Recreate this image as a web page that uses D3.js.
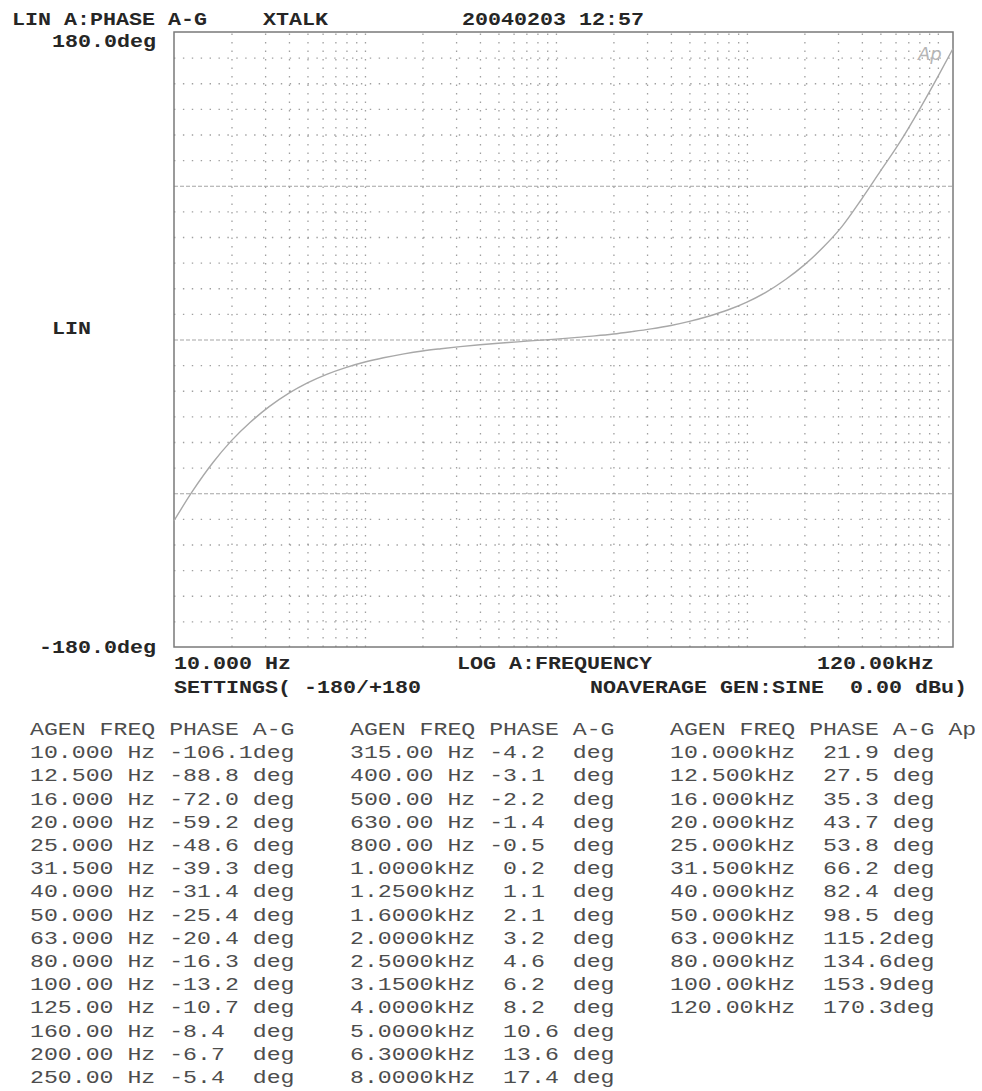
<!DOCTYPE html>
<html>
<head>
<meta charset="utf-8">
<script src="https://cdn.jsdelivr.net/npm/d3@7"></script>
<style>
  body { margin: 0; background: #fff; }
  svg text { white-space: pre; }
</style>
</head>
<body>
<div id="chart"></div>
<script>
// Audio Precision phase plot: A-G phase vs generator frequency

// Measured points (generator frequency in Hz, phase in degrees)
const freqHz = [
  10, 12.5, 16, 20, 25, 31.5, 40, 50, 63, 80, 100, 125, 160, 200, 250,
  315, 400, 500, 630, 800, 1000, 1250, 1600, 2000, 2500, 3150, 4000, 5000, 6300, 8000,
  10000, 12500, 16000, 20000, 25000, 31500, 40000, 50000, 63000, 80000, 100000, 120000
];
const phaseDeg = [
  -106.1, -88.8, -72.0, -59.2, -48.6, -39.3, -31.4, -25.4, -20.4, -16.3, -13.2, -10.7, -8.4, -6.7, -5.4,
  -4.2, -3.1, -2.2, -1.4, -0.5, 0.2, 1.1, 2.1, 3.2, 4.6, 6.2, 8.2, 10.6, 13.6, 17.4,
  21.9, 27.5, 35.3, 43.7, 53.8, 66.2, 82.4, 98.5, 115.2, 134.6, 153.9, 170.3
];

// Axis ends and grid
const freqDomain = [10, 120000];
const phaseDomain = [-180, 180];
const phaseGrid = d3.range(-165, 180, 15);
const phaseMajor = [-90, 0, 90];
const freqGrid = [10, 100, 1000, 10000]
  .flatMap(d => [2, 3, 4, 5, 6, 7, 8, 9, 10].map(m => d * m))
  .filter(f => f < 120000);

// Table layout: rows per column
const tableColumns = [[0, 15], [15, 30], [30, 42]];
const tableHeaders = ['AGEN FREQ PHASE A-G', 'AGEN FREQ PHASE A-G', 'AGEN FREQ PHASE A-G Ap'];

const W = 982, H = 1091;
const plot = { left: 174, right: 953, top: 32, bottom: 647 };

const svg = d3.select('#chart').append('svg')
  .attr('width', W)
  .attr('height', H)
  .attr('xml:space', 'preserve');

svg.append('rect').attr('width', W).attr('height', H).attr('fill', '#fff');

const x = d3.scaleLog().domain(freqDomain).range([plot.left, plot.right]);
const y = d3.scaleLinear().domain(phaseDomain).range([plot.bottom, plot.top]);

const monoFont = "'Liberation Mono', 'Courier New', monospace";
const gridColor = '#8f8f8f';

// Horizontal dotted grid
const yGrid = svg.append('g')
  .attr('transform', `translate(${plot.left},0)`)
  .call(d3.axisLeft(y)
    .tickValues(phaseGrid)
    .tickSize(-(plot.right - plot.left))
    .tickFormat(''));
yGrid.select('.domain').remove();
yGrid.selectAll('.tick line')
  .attr('stroke', gridColor)
  .attr('stroke-width', d => phaseMajor.includes(d) ? 1 : 1.3)
  .attr('stroke-dasharray', d => phaseMajor.includes(d) ? '4,2' : '1.4,7.5')
  .attr('stroke-opacity', d => phaseMajor.includes(d) ? 0.8 : 0.85);

// Vertical dotted grid
const xGrid = svg.append('g')
  .attr('transform', `translate(0,${plot.bottom})`)
  .call(d3.axisBottom(x)
    .tickValues(freqGrid)
    .tickSize(-(plot.bottom - plot.top))
    .tickFormat(''));
xGrid.select('.domain').remove();
xGrid.selectAll('.tick line')
  .attr('stroke', gridColor)
  .attr('stroke-width', 1.3)
  .attr('stroke-opacity', 0.85)
  .attr('stroke-dasharray', '1.4,7.1');

// Plot frame
svg.append('rect')
  .attr('x', plot.left)
  .attr('y', plot.top)
  .attr('width', plot.right - plot.left)
  .attr('height', plot.bottom - plot.top)
  .attr('fill', 'none')
  .attr('stroke', '#7a7a7a')
  .attr('stroke-width', 1.5);

// Phase curve
const points = freqHz.map((f, i) => ({ f: f, p: phaseDeg[i] }));
svg.append('path')
  .datum(points)
  .attr('fill', 'none')
  .attr('stroke', '#a8a8a8')
  .attr('stroke-width', 1.4)
  .attr('d', d3.line()
    .x(d => x(d.f))
    .y(d => y(d.p))
    .curve(d3.curveMonotoneX));

// Ap logo
svg.append('text')
  .attr('x', 918)
  .attr('y', 60)
  .style('font-family', "'DejaVu Sans', sans-serif")
  .style('font-size', '18px')
  .style('font-style', 'italic')
  .style('fill', '#b5b5b5')
  .text('Ap');

// Chart labels: monospace, stretched to the plotter's 13px character pitch
function label(txt, xPos, yPos) {
  svg.append('text')
    .attr('x', xPos)
    .attr('y', yPos)
    .attr('textLength', txt.length * 13)
    .attr('lengthAdjust', 'spacingAndGlyphs')
    .style('font-family', monoFont)
    .style('font-size', '18px')
    .style('font-weight', 'bold')
    .style('fill', '#262626')
    .text(txt);
}

label('LIN A:PHASE A-G', 12, 25);
label('XTALK', 263, 25);
label('20040203 12:57', 462, 25);
label('180.0deg', 52, 47);
label('LIN', 52, 334);
label('-180.0deg', 39, 653);
label('10.000 Hz', 174, 669);
label('LOG A:FREQUENCY', 457, 669);
label('120.00kHz', 817, 669);
label('SETTINGS( -180/+180', 174, 693);
label('NOAVERAGE GEN:SINE  0.00 dBu)', 590, 693);

// Data table under the chart
const fmt5 = d3.format('.5r');
const freqText = f => f < 1000 ? fmt5(f) + ' Hz' : fmt5(f / 1000) + 'kHz';
const phaseText = p => ((p < 0 ? '-' : ' ') + Math.abs(p).toFixed(1)).padEnd(6, ' ') + 'deg';

const colX = [30, 350, 670];
const rowTop = 735;
const rowStep = 23.2;
const tableCharW = 13.92;

tableColumns.forEach((range, c) => {
  const rows = [tableHeaders[c]].concat(
    d3.range(range[0], range[1]).map(i => freqText(freqHz[i]) + ' ' + phaseText(phaseDeg[i]))
  );
  svg.append('g').selectAll('text')
    .data(rows)
    .enter()
    .append('text')
    .attr('x', colX[c])
    .attr('y', (d, i) => rowTop + i * rowStep)
    .attr('textLength', d => d.length * tableCharW)
    .attr('lengthAdjust', 'spacingAndGlyphs')
    .style('font-family', monoFont)
    .style('font-size', '19px')
    .style('fill', '#4d4d4d')
    .text(d => d);
});
</script>
</body>
</html>
